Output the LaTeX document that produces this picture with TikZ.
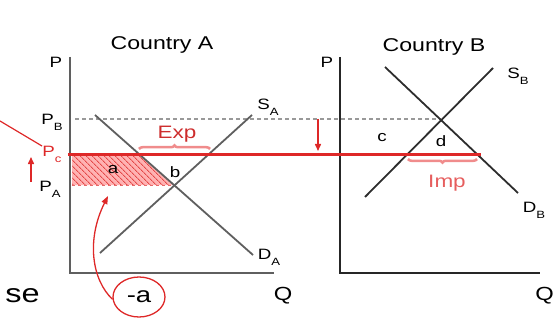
\documentclass[tikz,border=0pt]{standalone}
\usepackage{fontspec}
\usepackage{graphicx}
\setmainfont{Liberation Sans}
\usetikzlibrary{arrows.meta,patterns.meta,decorations.pathreplacing,shapes.geometric}
\definecolor{myred}{RGB}{222,40,40}
\definecolor{lred}{RGB}{240,140,140}
\definecolor{txtred}{RGB}{205,45,45}
\definecolor{crvA}{RGB}{95,95,95}
\definecolor{crvB}{RGB}{45,45,45}
\newcommand{\hs}[1]{\scalebox{1.25}[1]{#1}}
\newcommand{\sbx}[1]{\raisebox{-0.4em}{\fontsize{10.5}{10.5}\selectfont #1}}
\begin{document}
\begin{tikzpicture}[x=1pt,y=-1pt,
  lbl/.style={inner sep=0pt, font=\fontsize{15}{15}\selectfont},
  ttl/.style={inner sep=0pt, font=\fontsize{18.5}{18.5}\selectfont},
  big/.style={inner sep=0pt, font=\fontsize{26}{26}\selectfont},
  axisline/.style={line width=2.2pt},
  crv/.style={line width=1.8pt},
  redarrow/.style={draw=myred, line width=1.5pt, -{Triangle[length=7pt,width=6pt]}},
  bracestyle/.style={draw=lred, line width=2.5pt, decorate,
     decoration={brace, amplitude=3.5pt, aspect=0.5}}]
\useasboundingbox (0,0) rectangle (555,321);

% coordinates
\coordinate (Atop) at (70,57);
\coordinate (A0) at (70,273);
\coordinate (Aright) at (274,273);
\coordinate (Btop) at (340,57);
\coordinate (B0) at (340,273);
\coordinate (Bright) at (540,273);
\coordinate (SA1) at (100,253);
\coordinate (SA2) at (252,115);
\coordinate (DA1) at (95,115);
\coordinate (DA2) at (253,255);
\coordinate (SB1) at (365,197);
\coordinate (SB2) at (493,68);
\coordinate (DB1) at (385,67);
\coordinate (DB2) at (518,193);
\coordinate (b) at (174,185);
\coordinate (d) at (441,119);
\coordinate (dashL) at (75,119);
\coordinate (redL) at (68,154);
\coordinate (redR) at (481,154);
\coordinate (h1) at (72,154);
\coordinate (h2) at (139,154);
\coordinate (h4) at (72,185);
\coordinate (offl) at (0,121);
\coordinate (offr) at (42,146);

% hatched area
\fill[red!30] (h1) -- (h2) -- (b) -- (h4) -- cycle;
\fill[pattern={Lines[angle=-45,distance=4pt,line width=1pt]}, pattern color=myred!85]
  (h1) -- (h2) -- (b) -- (h4) -- cycle;
\draw[myred!70, line width=1pt, dashed] (h4) -- (b);

% dashed P_B line
\draw[gray!80, line width=1.3pt, dash pattern=on 4pt off 3pt] (dashL) -- (d);

% axes
\draw[axisline, draw=crvA] (Atop) -- (A0) -- (Aright);
\draw[axisline, draw=black!85] (Btop) -- (B0) -- (Bright);

% curves
\draw[crv, draw=crvA] (SA1) -- (SA2);
\draw[crv, draw=crvA] (DA1) -- (DA2);
\draw[crv, draw=crvB] (SB1) -- (SB2);
\draw[crv, draw=crvB] (DB1) -- (DB2);

% world price line
\draw[myred, line width=3pt] (redL) -- (redR);
\draw[myred, line width=1.2pt] (offl) -- (offr);

% braces
\coordinate (eb1) at (139,149);
\coordinate (eb2) at (210,149);
\coordinate (ib1) at (477,159);
\coordinate (ib2) at (408,159);
\draw[bracestyle] (eb1) -- (eb2);
\draw[bracestyle] (ib1) -- (ib2);

% arrows
\coordinate (ua1) at (31,182);
\coordinate (ua2) at (31,157);
\draw[redarrow] (ua1) -- (ua2);
\coordinate (da1) at (318,119);
\coordinate (da2) at (318,151);
\draw[redarrow] (da1) -- (da2);

% titles
\node[ttl] (tA) at (162,45) {\hs{Country A}};
\node[ttl] (tB) at (434,47) {\hs{Country B}};

% axis labels
\node[lbl] (PAx) at (56,62) {\hs{P}};
\node[lbl] (PBx) at (327,62) {\hs{P}};
\node[inner sep=0pt, font=\fontsize{19}{19}\selectfont] (QA) at (283,296) {\hs{Q}};
\node[inner sep=0pt, font=\fontsize{19}{19}\selectfont, anchor=east] (QB) at (554,296) {\hs{Q}};

% price labels
\node[lbl] (PB) at (52,122) {\hs{P\sbx{B}}};
\node[lbl, text=myred] (Pc) at (52,154) {\hs{P\sbx{c}}};
\node[lbl] (PA) at (50,189) {\hs{P\sbx{A}}};

% curve labels
\node[lbl] (SAl) at (268,107) {\hs{S\sbx{A}}};
\node[lbl] (DAl) at (269,257) {\hs{D\sbx{A}}};
\node[lbl] (SBl) at (518,76) {\hs{S\sbx{B}}};
\node[lbl] (DBl) at (534,210) {\hs{D\sbx{B}}};

% point labels
\node[lbl] (la) at (113,170) {\hs{a}};
\node[lbl] (lb) at (175,172) {\hs{b}};
\node[lbl] (lc) at (382,138) {\hs{c}};
\node[lbl] (ld) at (441,141) {\hs{d}};

% Exp / Imp
\node[inner sep=0pt, font=\fontsize{18}{18}\selectfont, text=txtred] (exp) at (177,134) {\hs{Exp}};
\node[inner sep=0pt, font=\fontsize{18}{18}\selectfont, text=myred!75] (imp) at (447,183) {\hs{Imp}};

% -a and se
\node[ellipse, draw=myred, line width=1.3pt, inner sep=0pt, minimum width=52pt, minimum height=40pt,
  font=\fontsize{22}{22}\selectfont] (ma) at (139,297) {\hs{-a}};
\node[big, anchor=east] (se) at (40,296) {\hs{se}};
\coordinate (ctip) at (108,196);
\draw[myred, line width=1.3pt, -{Triangle[length=8pt,width=6pt]}]
  (ma.185) .. controls (92,280) and (86,240) .. (ctip);
\end{tikzpicture}
\end{document}
